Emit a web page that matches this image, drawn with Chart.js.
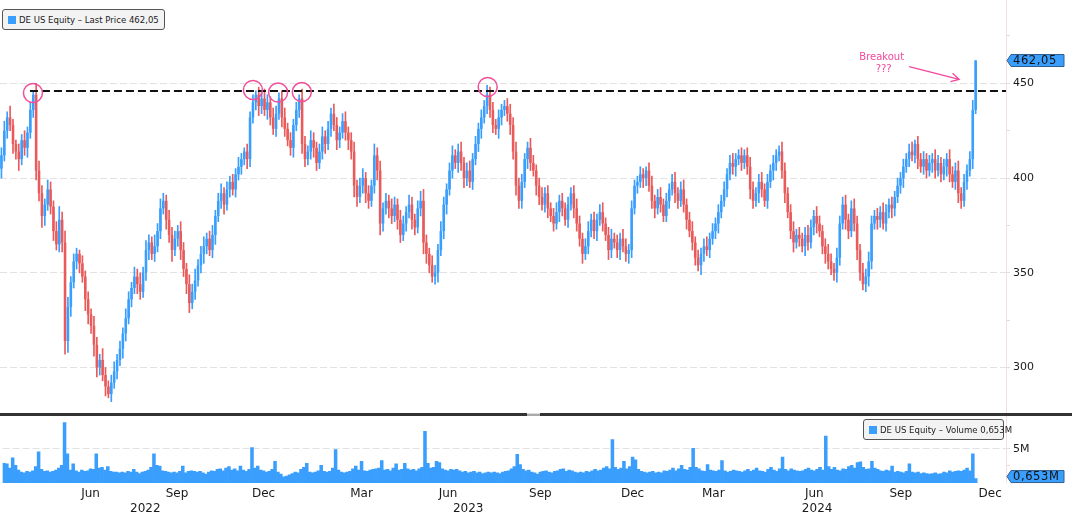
<!DOCTYPE html>
<html>
<head>
<meta charset="utf-8">
<script src="https://cdn.jsdelivr.net/npm/chart.js@4.4.0/dist/chart.umd.min.js"></script>
<style>
html, body { margin: 0; padding: 0; background: #fff; }
#wrap { position: relative; width: 1072px; height: 526px; overflow: hidden; }
#priceBox { position: absolute; left: 0; top: 0; width: 1072px; height: 413px; }
#volBox { position: absolute; left: 0; top: 416px; width: 1072px; height: 110px; }
#sep { position: absolute; left: 0; top: 413px; width: 1072px; height: 3px; background: #333; }
#grip { position: absolute; left: 527px; top: 413px; width: 13px; height: 3px; background: #aaa; border-top: 1px solid #ddd; box-sizing: border-box; }
.legend { position: absolute; border: 1px solid #555; border-radius: 3px; background: #f3f3f3;
  font: 9.5px 'DejaVu Sans Condensed', 'DejaVu Sans', sans-serif; color: #222;
  padding: 0 0 0 5px; white-space: nowrap; box-sizing: border-box; height: 21px; line-height: 19px; }
.legend i { display: inline-block; width: 8px; height: 8px; background: #3a9efd; margin-right: 3px; vertical-align: -1px; }
</style>
</head>
<body>
<div id="wrap">
  <div id="priceBox"><canvas id="price"></canvas></div>
  <div id="sep"></div><div id="grip"></div>
  <div id="volBox"><canvas id="vol"></canvas></div>
  <div class="legend" style="left:2px;top:9px;width:163px;"><i></i>DE US Equity – Last Price 462,05</div>
  <div class="legend" style="left:863px;top:419px;width:141px;"><i></i>DE US Equity – Volume 0,653M</div>
</div>
<script>
// cierres cada 2 sesiones, mar 2022 - nov 2024
const firstOpen = 405;
const closes = [
  412,425,432,428,418,414,410,420,416,424,
  436,444,404,392,380,386,394,385,372,365,
  378,366,314,332,345,356,360,355,348,336,
  328,322,312,300,304,296,290,286,292,298,
  304,310,318,326,336,342,348,344,340,350,
  362,366,360,364,372,384,388,378,370,362,
  368,372,362,352,344,334,340,346,354,360,
  364,368,362,370,380,388,392,386,394,398,
  394,402,406,410,414,410,432,440,444,438,
  442,436,440,432,426,434,442,432,426,420,
  416,428,436,442,418,410,414,420,416,408,
  414,422,418,426,434,428,420,424,430,424,
  420,414,396,390,396,400,392,388,396,412,
  404,376,384,388,384,380,386,378,370,376,
  382,386,378,374,384,388,366,360,354,348,
  350,362,372,386,394,404,412,408,414,408,
  400,404,398,410,418,426,432,438,444,436,
  428,426,432,436,438,434,428,414,396,388,
  398,410,416,408,404,396,390,386,392,384,
  380,376,382,388,384,378,386,392,384,376,
  368,360,364,372,378,372,378,382,376,370,
  362,368,366,362,368,364,360,362,384,396,
  398,402,400,404,396,388,384,390,386,380,
  388,394,398,392,388,394,386,378,372,366,
  358,354,360,364,362,368,372,376,382,388,
  394,402,408,406,410,412,408,412,406,394,
  388,392,398,394,388,398,404,408,412,414,
  404,392,382,372,366,370,368,364,370,366,
  374,380,376,372,364,360,356,352,350,358,
  376,386,378,372,384,376,362,350,344,348,
  356,376,380,378,382,376,382,386,384,390,
  396,400,406,410,414,412,418,410,406,410,
  404,408,410,404,408,402,406,410,402,398,
  404,392,388,398,404,410,436,462.05
];
// mecha sobre el cuerpo (puntos)
const wickUp = [
  4,5,3,6,3,2,4,3,5,3, 4,2,6,5,4,3,5,4,3,5, 7,4,6,5,3,4,3,2,4,3, 4,3,5,4,3,6,4,3,4,5,
  3,4,3,5,4,3,5,4,6,3, 5,4,3,6,4,5,4,3,5,4, 4,3,5,4,3,5,4,6,3,4, 5,3,4,5,3,4,5,3,4,3,
  4,3,5,3,2,4,3,4,2,4, 3,5,4,3,5,4,3,4,5,3, 4,3,4,2,5,4,3,5,4,3, 4,5,3,4,3,5,4,3,4,5,
  3,4,5,3,4,5,3,4,3,6, 4,5,3,4,3,5,4,3,5,4, 3,5,4,3,4,5,6,4,3,5, 4,3,5,4,3,4,5,3,4,5,
  3,4,5,3,4,3,4,3,5,4, 4,3,4,3,3,4,5,4,5,4, 4,3,3,5,4,3,4,5,3,4, 3,4,5,3,4,3,4,3,4,5,
  4,3,4,5,3,4,3,4,5,3, 4,5,3,4,3,5,4,3,4,3, 3,4,3,2,4,5,3,4,5,3, 4,3,4,5,3,4,5,3,4,5,
  3,4,3,4,5,3,4,3,4,3, 4,3,4,5,3,3,4,3,4,5, 4,3,4,5,3,4,3,4,3,3, 5,4,3,4,5,3,4,3,4,5,
  4,3,5,4,3,4,5,4,3,5, 4,4,5,3,4,5,4,3,5,4, 5,4,3,4,3,5,4,3,4,3, 4,3,4,3,4,5,2,4,3,4,
  3,4,3,5,4,3,4,3,5,4, 4,5,3,4,3,4,5,0
];
// mecha bajo el cuerpo (puntos)
const wickDown = [
  5,3,4,3,5,4,6,3,4,5, 3,4,5,4,6,5,3,4,5,3, 4,5,7,6,5,3,4,5,3,6, 5,4,6,5,4,3,5,2,4,3,
  4,3,5,4,3,4,3,5,4,3, 4,5,3,4,3,4,3,5,4,6, 3,4,5,4,5,5,3,4,3,4, 5,4,3,4,5,3,4,5,3,4,
  3,4,3,4,3,5,4,3,4,5, 4,3,5,4,3,4,3,5,4,3, 4,5,3,4,5,4,3,4,5,4, 3,4,5,3,4,3,5,4,3,4,
  5,4,6,5,3,4,5,4,3,4, 5,6,4,3,5,4,3,5,4,3, 4,3,5,4,3,4,6,5,4,3, 4,5,3,4,5,3,4,3,5,4,
  5,4,3,4,3,4,5,3,4,4, 4,3,5,4,3,4,5,4,5,4, 4,3,5,4,3,5,4,3,4,5, 3,4,3,5,4,3,4,3,5,4,
  4,5,3,4,3,4,5,3,4,3, 5,4,3,4,5,3,4,5,4,3, 4,3,5,4,3,4,5,3,4,3, 3,4,3,5,4,3,4,5,3,4,
  4,3,5,4,3,4,3,4,5,3, 3,4,3,4,5,3,4,3,4,5, 4,3,5,4,3,4,3,5,4,3, 4,5,3,4,5,3,4,3,5,4,
  3,4,5,3,4,5,4,3,4,5, 4,3,5,4,3,4,5,4,3,4, 5,4,3,5,4,3,4,3,5,4, 3,4,5,3,4,3,4,5,3,4,
  4,3,5,4,3,4,3,5,4,3, 4,5,4,3,4,3,5,2
];
// volumen en millones
const volume = [
  2.9,2.8,2.2,3.7,2.6,1.9,1.6,1.5,1.7,1.6,
  1.8,2.4,4.6,2.0,1.7,1.8,1.6,1.7,1.9,2.2,
  2.6,8.9,4.3,1.9,2.8,1.8,1.6,1.9,1.7,1.8,
  2.1,2.0,4.3,2.2,2.3,1.9,2.4,1.7,1.6,1.6,
  1.5,1.6,1.5,1.7,1.6,2.0,1.6,1.4,1.6,1.7,
  1.9,2.3,4.3,2.6,2.5,1.8,1.7,1.6,1.5,1.6,
  1.5,1.7,2.5,1.5,1.7,1.8,1.7,1.6,1.7,1.5,
  1.3,1.6,1.8,1.7,2.0,2.1,1.8,2.2,2.4,1.9,
  2.1,1.8,2.5,1.9,1.7,2.0,5.2,2.2,2.5,1.9,
  1.8,1.6,1.7,2.0,3.2,1.6,1.3,0.9,1.0,1.2,
  1.4,1.6,1.5,2.0,2.3,2.9,1.6,1.5,1.6,1.8,
  2.6,1.7,1.6,1.7,2.2,4.9,1.9,1.6,1.5,1.6,
  1.7,2.1,2.5,1.9,3.2,1.8,1.7,1.9,2.0,2.1,
  2.2,3.3,1.9,2.0,1.8,2.2,2.8,1.9,2.0,2.9,
  2.1,1.9,2.0,1.8,2.1,2.3,7.6,2.9,2.2,2.3,
  3.2,3.0,2.1,1.9,1.8,2.0,1.9,2.0,1.8,1.6,
  1.7,1.5,1.6,1.7,1.5,1.6,1.4,1.5,1.6,1.5,
  1.6,1.5,1.4,1.6,1.7,1.8,2.1,2.4,4.2,2.7,
  2.0,1.8,1.9,1.6,1.5,1.3,1.6,1.7,1.8,1.6,
  1.5,1.7,1.8,2.0,2.1,1.7,1.9,1.8,1.6,1.5,
  1.6,1.5,1.7,1.6,1.8,2.0,1.8,1.9,2.2,2.4,
  2.1,6.4,2.3,2.0,2.2,3.2,2.1,2.4,3.8,3.4,
  2.0,1.7,1.6,1.5,1.6,1.7,1.5,1.6,1.5,1.8,
  1.7,1.9,2.2,1.8,2.1,2.6,2.0,1.9,2.3,5.1,
  2.3,2.1,1.8,1.7,2.7,1.9,1.8,1.7,1.9,3.3,
  1.8,1.6,1.7,1.9,1.8,1.7,1.6,1.8,2.0,1.7,
  1.9,2.2,1.8,1.7,1.6,2.0,2.3,1.9,1.7,2.1,
  3.8,2.0,1.8,2.1,1.9,1.8,1.7,1.8,2.0,2.2,
  1.9,1.8,2.0,2.3,1.9,6.9,2.4,2.0,2.3,1.9,
  1.8,2.1,2.0,2.4,2.6,2.2,3.0,3.1,2.3,2.0,
  2.1,3.2,2.2,2.0,1.8,1.7,1.9,1.8,2.5,1.6,
  1.7,1.6,1.5,1.7,2.8,1.6,1.5,1.6,1.4,1.5,
  1.4,1.3,1.4,1.5,1.3,1.4,1.6,1.5,1.8,1.6,
  1.7,1.8,1.7,1.9,2.2,1.8,4.3,0.653
];
const slotCount = 348;
const monthLabels = ['Jun','Sep','Dec','Mar','Jun','Sep','Dec','Mar','Jun','Sep','Dec'];
const monthAt = [30, 60, 90, 124, 154, 186, 218, 246, 281, 311, 342];
const yearLabels = ['2022','2023','2024'];
const yearAt = [49, 161, 282];
const priceTicks = [300, 325, 350, 375, 400, 425, 450, 475];
const volTicks = [2.5, 5, 7.5];

const resistance = 446;
const touchIdx = [10.9, 87.0, 95.7, 103.9, 168.2];
const touchVal = [444.9, 446.5, 445.2, 445.4, 448.1];
const breakoutText = ['Breakout', '???'];
const breakoutAt = [304.5, 463.7, 457.3];
const arrowFrom = [314.0, 458.8];
const arrowTo = [331.3, 452.1];

const BLUE = '#3a9efd', RED = '#e95b5b';
const slots = Array.from({length: slotCount}, (_, i) => i);
const openOf = i => (i ? closes[i - 1] : firstOpen);
const isUp = i => closes[i] >= openOf(i);

function callout(ctx, x0, yc, text) {
  ctx.save();
  ctx.beginPath();
  ctx.moveTo(x0, yc);
  ctx.lineTo(x0 + 4, yc - 6);
  ctx.lineTo(x0 + 57, yc - 6);
  ctx.lineTo(x0 + 57, yc + 6);
  ctx.lineTo(x0 + 4, yc + 6);
  ctx.closePath();
  ctx.fillStyle = BLUE; ctx.fill();
  ctx.strokeStyle = '#2f5f8f'; ctx.lineWidth = 1; ctx.stroke();
  ctx.fillStyle = '#111';
  ctx.font = '11.5px "DejaVu Sans"';
  ctx.letterSpacing = '0.6px';
  ctx.textBaseline = 'middle';
  ctx.fillText(text, x0 + 6, yc + 0.5);
  ctx.restore();
}

function axisLine(chart) {
  const {ctx, chartArea: a} = chart;
  ctx.save();
  ctx.strokeStyle = '#f4dede'; ctx.lineWidth = 1;
  ctx.beginPath(); ctx.moveTo(a.right + 0.5, a.top); ctx.lineTo(a.right + 0.5, a.bottom); ctx.stroke();
  ctx.restore();
}

const priceAnnot = {
  id: 'priceAnnot',
  afterDatasetsDraw(chart) {
    const {ctx, chartArea: a, scales: {x, y}} = chart;
    axisLine(chart);
    ctx.save();
    // linea de resistencia
    const ry = y.getPixelForValue(resistance);
    ctx.strokeStyle = '#111'; ctx.lineWidth = 2; ctx.setLineDash([8, 4]);
    ctx.beginPath(); ctx.moveTo(x.getPixelForValue(touchIdx[0]) - 3, ry); ctx.lineTo(a.right, ry); ctx.stroke();
    ctx.setLineDash([]);
    // circulos
    ctx.strokeStyle = '#f0509a'; ctx.lineWidth = 1.5;
    touchIdx.forEach((i, k) => {
      ctx.beginPath();
      ctx.arc(x.getPixelForValue(i), y.getPixelForValue(touchVal[k]), 9.5, 0, Math.PI * 2);
      ctx.stroke();
    });
    // texto breakout
    ctx.fillStyle = '#f0489c';
    ctx.font = '10px "DejaVu Sans"';
    ctx.textAlign = 'center'; ctx.textBaseline = 'middle';
    const tx = x.getPixelForValue(breakoutAt[0]);
    ctx.fillText(breakoutText[0], tx, y.getPixelForValue(breakoutAt[1]));
    ctx.fillText(breakoutText[1], tx + 2, y.getPixelForValue(breakoutAt[2]));
    // flecha
    const x1 = x.getPixelForValue(arrowFrom[0]), y1 = y.getPixelForValue(arrowFrom[1]);
    const x2 = x.getPixelForValue(arrowTo[0]), y2 = y.getPixelForValue(arrowTo[1]);
    const ang = Math.atan2(y2 - y1, x2 - x1);
    ctx.strokeStyle = '#f0489c'; ctx.lineWidth = 1.3;
    ctx.beginPath(); ctx.moveTo(x1, y1); ctx.lineTo(x2, y2);
    ctx.moveTo(x2 - 9 * Math.cos(ang - 0.5), y2 - 9 * Math.sin(ang - 0.5));
    ctx.lineTo(x2, y2);
    ctx.lineTo(x2 - 9 * Math.cos(ang + 0.5), y2 - 9 * Math.sin(ang + 0.5));
    ctx.stroke();
    ctx.restore();
    callout(ctx, a.right + 1, y.getPixelForValue(closes[closes.length - 1]), '462,05');
  }
};

const volAnnot = {
  id: 'volAnnot',
  afterDatasetsDraw(chart) {
    const {ctx, chartArea: a, scales: {y}} = chart;
    axisLine(chart);
    callout(ctx, a.right + 1, y.getPixelForValue(volume[volume.length - 1]) - 2, '0,653M');
  }
};

const tickFont = {family: 'DejaVu Sans', size: 11};
const candleColor = ctx => (isUp(ctx.dataIndex) ? BLUE : RED);

new Chart(document.getElementById('price'), {
  type: 'bar',
  data: {
    labels: slots,
    datasets: [{
      // cuerpos
      data: closes.map((c, i) => [openOf(i), c]),
      backgroundColor: candleColor, grouped: false,
      barPercentage: 0.9, categoryPercentage: 1, minBarLength: 1, borderWidth: 0
    }, {
      // mechas
      data: closes.map((c, i) => [Math.min(c, openOf(i)) - wickDown[i], Math.max(c, openOf(i)) + wickUp[i]]),
      backgroundColor: candleColor, grouped: false,
      barThickness: 1, borderWidth: 0
    }]
  },
  options: {
    responsive: true, maintainAspectRatio: false, animation: false,
    layout: {padding: 0},
    plugins: {legend: {display: false}, tooltip: {enabled: false}},
    scales: {
      x: {display: false},
      y: {
        position: 'right', min: 276, max: 494,
        afterBuildTicks: s => { s.ticks = priceTicks.map(v => ({value: v})); },
        afterFit: s => { s.width = 66; s.paddingTop = 0; s.paddingBottom = 0; },
        ticks: {callback: v => (v % 50 === 0 ? v : ''), color: '#1a1a1a', font: tickFont, padding: 3},
        grid: {
          color: c => (c.tick && c.tick.value % 50 === 0 ? '#e2e2e2' : 'rgba(0,0,0,0)'),
          tickColor: '#f0d6d6', tickLength: 4, lineWidth: 1
        },
        border: {display: false, dash: [7, 3]}
      }
    }
  },
  plugins: [priceAnnot]
});

new Chart(document.getElementById('vol'), {
  type: 'bar',
  data: {
    labels: slots,
    datasets: [{
      data: volume, backgroundColor: BLUE,
      barPercentage: 1, categoryPercentage: 1, borderWidth: 0
    }]
  },
  options: {
    responsive: true, maintainAspectRatio: false, animation: false,
    layout: {padding: 0},
    plugins: {legend: {display: false}, tooltip: {enabled: false}},
    scales: {
      x: {
        position: 'bottom',
        grid: {display: false, drawTicks: false}, border: {display: false},
        afterFit: s => { s.height = 18; },
        ticks: {
          autoSkip: false, maxRotation: 0, padding: 4, color: '#1a1a1a',
          font: {family: 'DejaVu Sans', size: 12},
          callback: (v, i) => { const k = monthAt.indexOf(i); return k < 0 ? '' : monthLabels[k]; }
        }
      },
      x2: {
        type: 'category', position: 'bottom',
        grid: {display: false, drawTicks: false}, border: {display: false},
        afterFit: s => { s.height = 25; },
        ticks: {
          autoSkip: false, maxRotation: 0, padding: 1, color: '#1a1a1a',
          font: {family: 'DejaVu Sans', size: 12},
          callback: (v, i) => { const k = yearAt.indexOf(i); return k < 0 ? '' : yearLabels[k]; }
        }
      },
      y: {
        position: 'right', min: 0, max: 9.85,
        afterBuildTicks: s => { s.ticks = volTicks.map(v => ({value: v})); },
        afterFit: s => { s.width = 66; s.paddingTop = 0; s.paddingBottom = 0; },
        ticks: {callback: v => (v === 5 ? '5M' : ''), color: '#1a1a1a', font: tickFont, padding: 3},
        grid: {
          color: c => (c.tick && c.tick.value === 5 ? '#e2e2e2' : 'rgba(0,0,0,0)'),
          tickColor: '#f0d6d6', tickLength: 4, lineWidth: 1
        },
        border: {display: false, dash: [7, 3]}
      }
    }
  },
  plugins: [volAnnot]
});
</script>
</body>
</html>
